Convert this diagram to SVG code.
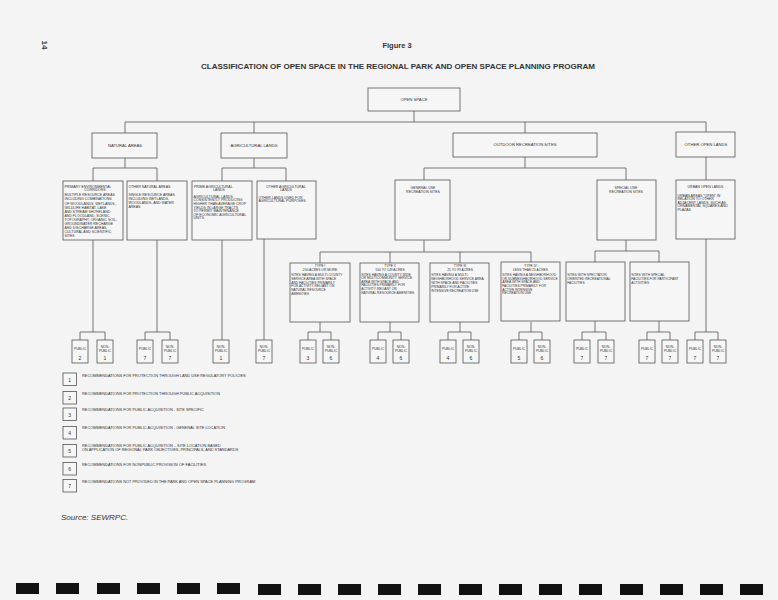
<svg xmlns="http://www.w3.org/2000/svg" width="778" height="600" viewBox="0 0 778 600">
<style>
.bg{fill:#f4f4f4}
.b{fill:#f6f6f6;stroke:#555;stroke-width:0.8}
.c{fill:none;stroke:#555;stroke-width:0.8}
text{font-family:"Liberation Sans",Arial,sans-serif;fill:#333}
.h{font-size:4.2px}
.d{font-size:3.5px}
.e{font-size:3.3px}
.m{text-anchor:middle}
.p{font-size:3.4px;text-anchor:middle}
.n{font-size:5px;text-anchor:middle}
.l{font-size:3.9px}
.k{fill:#111}
</style>
<rect class="bg" x="0" y="0" width="778" height="600"/>
<text x="42" y="45" transform="rotate(90 42 45)" font-size="8" font-weight="bold" text-anchor="middle">14</text>
<text x="397" y="48" font-size="7.5" font-weight="bold" text-anchor="middle">Figure 3</text>
<text x="201" y="69" font-size="8" font-weight="bold" textLength="394" lengthAdjust="spacingAndGlyphs">CLASSIFICATION OF OPEN SPACE IN THE REGIONAL PARK AND OPEN SPACE PLANNING PROGRAM</text>

<g id="connectors">
<path class="c" d="M414 111V122M125 122H706M125 122V133M254 122V133M525 122V133M706 122V132"/>
<path class="c" d="M125 158V168M93 168H157M93 168V181M157 168V181"/>
<path class="c" d="M254 158V168M222 168H286M222 168V181M286 168V181"/>
<path class="c" d="M525 157V168M424 168H626M424 168V180M626 168V180"/>
<path class="c" d="M706 157V180"/>
<path class="c" d="M424 240V252M320 252H531M320 252V263M390 252V263M460 252V263M531 252V263"/>
<path class="c" d="M626 240V251M595 251H659M595 251V262M659 251V262"/>
<path class="c" d="M93 240V332M80 332H105M80 332V340M105 332V340"/>
<path class="c" d="M157 240V332M145 332H170M145 332V340M170 332V340"/>
<path class="c" d="M222 240V340"/>
<path class="c" d="M264 239V340"/>
<path class="c" d="M320 322V332M308 332H331M308 332V340M331 332V340"/>
<path class="c" d="M390 322V332M378 332H401M378 332V340M401 332V340"/>
<path class="c" d="M460 322V332M448 332H471M448 332V340M471 332V340"/>
<path class="c" d="M531 322V332M519 332H542M519 332V340M542 332V340"/>
<path class="c" d="M595 321V332M582 332H606M582 332V340M606 332V340"/>
<path class="c" d="M659 321V332M647 332H670M647 332V340M670 332V340"/>
<path class="c" d="M706 239V332M695 332H718M695 332V340M718 332V340"/>
</g>

<g id="open-space"><rect class="b" x="368" y="88" width="92" height="23"/><text class="h m" x="414" y="101">OPEN SPACE</text></g>
<g id="natural-areas"><rect class="b" x="92" y="133" width="65" height="25"/><text class="h m" x="125" y="147">NATURAL AREAS</text></g>
<g id="agricultural-lands"><rect class="b" x="221" y="133" width="66" height="25"/><text class="h m" x="254" y="147">AGRICULTURAL LANDS</text></g>
<g id="outdoor-recreation"><rect class="b" x="453" y="133" width="144" height="24"/><text class="h m" x="525" y="146">OUTDOOR RECREATION SITES</text></g>
<g id="other-open-lands"><rect class="b" x="676" y="132" width="59" height="25"/><text class="h m" x="706" y="146">OTHER OPEN LANDS</text></g>

<g id="primary-env-corridors"><rect class="b" x="63" y="181" width="60" height="59"/>
<text class="d" x="64.5" y="187.5">PRIMARY ENVIRONMENTAL</text>
<text class="d m" x="95" y="190.8">CORRIDORS</text>
<text class="d" x="64.5" y="196.3">MULTIPLE RESOURCE AREAS</text>
<text class="d" x="64.5" y="200.4">INCLUDING COMBINATIONS</text>
<text class="d" x="64.5" y="204.5">OF WOODLANDS, WETLANDS,</text>
<text class="d" x="64.5" y="208.6">WILDLIFE HABITAT, LAKE</text>
<text class="d" x="64.5" y="212.7">AND STREAM SHORELAND</text>
<text class="d" x="64.5" y="216.8">AND FLOODLAND, SCENIC</text>
<text class="d" x="64.5" y="220.9">TOPOGRAPHY, ORGANIC SOIL,</text>
<text class="d" x="64.5" y="225">GROUNDWATER RECHARGE</text>
<text class="d" x="64.5" y="229.1">AND DISCHARGE AREAS,</text>
<text class="d" x="64.5" y="233.2">CULTURAL AND SCIENTIFIC</text>
<text class="d" x="64.5" y="237.3">SITES</text>
</g>
<g id="other-natural-areas"><rect class="b" x="127" y="181" width="60" height="59"/>
<text class="d" x="128.5" y="187.5">OTHER NATURAL AREAS</text>
<text class="d" x="128.5" y="196.3">SINGLE RESOURCE AREAS</text>
<text class="d" x="128.5" y="200.1">INCLUDING WETLANDS,</text>
<text class="d" x="128.5" y="203.9">WOODLANDS, AND WATER</text>
<text class="d" x="128.5" y="207.7">AREAS</text>
</g>
<g id="prime-agricultural"><rect class="b" x="192" y="181" width="60" height="59"/>
<text class="d" x="194" y="187.5">PRIME AGRICULTURAL</text>
<text class="d m" x="219" y="190.8">LANDS</text>
<text class="d" x="193.5" y="197.8">AGRICULTURAL LANDS</text>
<text class="d" x="193.5" y="201.4">CONSISTENTLY PRODUCING</text>
<text class="d" x="193.5" y="205">HIGHER THAN AVERAGE CROP</text>
<text class="d" x="193.5" y="208.6">YIELDS IN LARGE TRACTS</text>
<text class="d" x="193.5" y="212.2">TO PERMIT MAINTENANCE</text>
<text class="d" x="193.5" y="215.8">OF ECONOMIC AGRICULTURAL</text>
<text class="d" x="193.5" y="219.4">UNITS</text>
</g>
<g id="other-agricultural"><rect class="b" x="257" y="181" width="59" height="58"/>
<text class="d m" x="286" y="187.5">OTHER AGRICULTURAL</text>
<text class="d m" x="286" y="190.8">LANDS</text>
<text class="d" x="258.5" y="198.8">OTHER LANDS USED FOR</text>
<text class="d" x="258.5" y="202.3">AGRICULTURAL PURPOSES</text>
</g>
<g id="general-use"><rect class="b" x="395" y="180" width="55" height="60"/>
<text class="d m" x="423" y="188.5">GENERAL USE</text>
<text class="d m" x="423" y="192.6">RECREATION SITES</text>
</g>
<g id="special-use"><rect class="b" x="597" y="180" width="59" height="60"/>
<text class="d m" x="626" y="188.5">SPECIAL USE</text>
<text class="d m" x="626" y="192.6">RECREATION SITES</text>
</g>
<g id="urban-open-lands"><rect class="b" x="676" y="180" width="59" height="59"/>
<text class="d m" x="705.5" y="188">URBAN OPEN LANDS</text>
<text class="d" x="677.5" y="197">URBAN AREAS "OPEN" IN</text>
<text class="d" x="677.5" y="200.4">RELATION TO OTHER</text>
<text class="d" x="677.5" y="203.8">ADJACENT LANDS, SUCH AS</text>
<text class="d" x="677.5" y="207.2">ORNAMENTAL SQUARES AND</text>
<text class="d" x="677.5" y="210.6">PLAZAS</text>
</g>

<g id="type-1"><rect class="b" x="290" y="263" width="60" height="59"/>
<text class="e m" x="320" y="267.2">TYPE I</text>
<text class="e m" x="320" y="270.6">250 ACRES OR MORE</text>
<text class="e" x="291.2" y="276.2">SITES HAVING A MULTI-COUNTY</text>
<text class="e" x="291.2" y="279.9">SERVICE AREA WITH SPACE</text>
<text class="e" x="291.2" y="283.6">AND FACILITIES PRIMARILY</text>
<text class="e" x="291.2" y="287.3">FOR ACTIVITY RELIANT ON</text>
<text class="e" x="291.2" y="291">NATURAL RESOURCE</text>
<text class="e" x="291.2" y="294.7">AMENITIES</text>
</g>
<g id="type-2"><rect class="b" x="360" y="263" width="59" height="59"/>
<text class="e m" x="390" y="267.2">TYPE II</text>
<text class="e m" x="390" y="270.6">100 TO 149 ACRES</text>
<text class="e" x="361.2" y="275.6">SITES HAVING A COUNTY-WIDE</text>
<text class="e" x="361.2" y="279.2">OR MULTICOMMUNITY SERVICE</text>
<text class="e" x="361.2" y="282.8">AREA WITH SPACE AND</text>
<text class="e" x="361.2" y="286.4">FACILITIES PRIMARILY FOR</text>
<text class="e" x="361.2" y="290">ACTIVITY RELIANT ON</text>
<text class="e" x="361.2" y="293.6">NATURAL RESOURCE AMENITIES</text>
</g>
<g id="type-3"><rect class="b" x="430" y="263" width="59" height="59"/>
<text class="e m" x="460" y="267.2">TYPE III</text>
<text class="e m" x="460" y="270.6">25 TO 99 ACRES</text>
<text class="e" x="431.2" y="275.6">SITES HAVING A MULTI-</text>
<text class="e" x="431.2" y="279.6">NEIGHBORHOOD SERVICE AREA</text>
<text class="e" x="431.2" y="283.6">WITH SPACE AND FACILITIES</text>
<text class="e" x="431.2" y="287.6">PRIMARILY FOR ACTIVE</text>
<text class="e" x="431.2" y="291.6">INTENSIVE RECREATION USE</text>
</g>
<g id="type-4"><rect class="b" x="501" y="262" width="59" height="59"/>
<text class="e m" x="530.5" y="267.2">TYPE IV</text>
<text class="e m" x="530.5" y="270.6">LESS THAN 25 ACRES</text>
<text class="e" x="502.2" y="276.2">SITES HAVING A NEIGHBORHOOD</text>
<text class="e" x="502.2" y="279.8">OR SUBNEIGHBORHOOD SERVICE</text>
<text class="e" x="502.2" y="283.4">AREA WITH SPACE AND</text>
<text class="e" x="502.2" y="287">FACILITIES PRIMARILY FOR</text>
<text class="e" x="502.2" y="290.6">ACTIVE INTENSIVE</text>
<text class="e" x="502.2" y="294.2">RECREATION USE</text>
</g>
<g id="spectator-sites"><rect class="b" x="566" y="262" width="59" height="59"/>
<text class="e" x="567.2" y="276.2">SITES WITH SPECTATOR</text>
<text class="e" x="567.2" y="279.8">ORIENTED RECREATIONAL</text>
<text class="e" x="567.2" y="284.4">FACILITIES</text>
</g>
<g id="special-facility-sites"><rect class="b" x="630" y="262" width="59" height="59"/>
<text class="e" x="631.2" y="276.2">SITES WITH SPECIAL</text>
<text class="e" x="631.2" y="279.8">FACILITIES FOR PARTICIPANT</text>
<text class="e" x="631.2" y="284.4">ACTIVITIES</text>
</g>

<g id="pec-public"><rect class="b" x="72" y="340" width="16" height="23"/><text class="p" x="80" y="349.5">PUBLIC</text><text class="n" x="80" y="359.5">2</text></g>
<g id="pec-nonpublic"><rect class="b" x="97" y="340" width="16" height="23"/><text class="p" x="105" y="348">NON-</text><text class="p" x="105" y="351.6">PUBLIC</text><text class="n" x="105" y="359.5">1</text></g>
<g id="ona-public"><rect class="b" x="137" y="340" width="16" height="23"/><text class="p" x="145" y="349.5">PUBLIC</text><text class="n" x="145" y="359.5">7</text></g>
<g id="ona-nonpublic"><rect class="b" x="162" y="340" width="16" height="23"/><text class="p" x="170" y="348">NON-</text><text class="p" x="170" y="351.6">PUBLIC</text><text class="n" x="170" y="359.5">7</text></g>
<g id="pag-nonpublic"><rect class="b" x="213" y="340" width="16" height="23"/><text class="p" x="221" y="348">NON-</text><text class="p" x="221" y="351.6">PUBLIC</text><text class="n" x="221" y="359.5">1</text></g>
<g id="oag-nonpublic"><rect class="b" x="256" y="340" width="16" height="23"/><text class="p" x="264" y="348">NON-</text><text class="p" x="264" y="351.6">PUBLIC</text><text class="n" x="264" y="359.5">7</text></g>
<g id="t1-public"><rect class="b" x="300" y="340" width="16" height="23"/><text class="p" x="308" y="349.5">PUBLIC</text><text class="n" x="308" y="359.5">3</text></g>
<g id="t1-nonpublic"><rect class="b" x="323" y="340" width="16" height="23"/><text class="p" x="331" y="348">NON-</text><text class="p" x="331" y="351.6">PUBLIC</text><text class="n" x="331" y="359.5">6</text></g>
<g id="t2-public"><rect class="b" x="370" y="340" width="16" height="23"/><text class="p" x="378" y="349.5">PUBLIC</text><text class="n" x="378" y="359.5">4</text></g>
<g id="t2-nonpublic"><rect class="b" x="393" y="340" width="16" height="23"/><text class="p" x="401" y="348">NON-</text><text class="p" x="401" y="351.6">PUBLIC</text><text class="n" x="401" y="359.5">6</text></g>
<g id="t3-public"><rect class="b" x="440" y="340" width="16" height="23"/><text class="p" x="448" y="349.5">PUBLIC</text><text class="n" x="448" y="359.5">4</text></g>
<g id="t3-nonpublic"><rect class="b" x="463" y="340" width="16" height="23"/><text class="p" x="471" y="348">NON-</text><text class="p" x="471" y="351.6">PUBLIC</text><text class="n" x="471" y="359.5">6</text></g>
<g id="t4-public"><rect class="b" x="511" y="340" width="16" height="23"/><text class="p" x="519" y="349.5">PUBLIC</text><text class="n" x="519" y="359.5">5</text></g>
<g id="t4-nonpublic"><rect class="b" x="534" y="340" width="16" height="23"/><text class="p" x="542" y="348">NON-</text><text class="p" x="542" y="351.6">PUBLIC</text><text class="n" x="542" y="359.5">6</text></g>
<g id="spec-public"><rect class="b" x="574" y="340" width="16" height="23"/><text class="p" x="582" y="349.5">PUBLIC</text><text class="n" x="582" y="359.5">7</text></g>
<g id="spec-nonpublic"><rect class="b" x="598" y="340" width="16" height="23"/><text class="p" x="606" y="348">NON-</text><text class="p" x="606" y="351.6">PUBLIC</text><text class="n" x="606" y="359.5">7</text></g>
<g id="sf-public"><rect class="b" x="639" y="340" width="16" height="23"/><text class="p" x="647" y="349.5">PUBLIC</text><text class="n" x="647" y="359.5">7</text></g>
<g id="sf-nonpublic"><rect class="b" x="662" y="340" width="16" height="23"/><text class="p" x="670" y="348">NON-</text><text class="p" x="670" y="351.6">PUBLIC</text><text class="n" x="670" y="359.5">7</text></g>
<g id="urban-public"><rect class="b" x="687" y="340" width="16" height="23"/><text class="p" x="695" y="349.5">PUBLIC</text><text class="n" x="695" y="359.5">7</text></g>
<g id="urban-nonpublic"><rect class="b" x="710" y="340" width="16" height="23"/><text class="p" x="718" y="348">NON-</text><text class="p" x="718" y="351.6">PUBLIC</text><text class="n" x="718" y="359.5">7</text></g>

<g id="legend">
<rect class="b" x="63" y="373" width="13.5" height="12.5"/><text class="n" x="69.7" y="381.5">1</text><text class="l" x="82" y="376.6">RECOMMENDATIONS FOR PROTECTION THROUGH LAND USE REGULATORY POLICIES</text>
<rect class="b" x="63" y="391.5" width="13.5" height="12.5"/><text class="n" x="69.7" y="400">2</text><text class="l" x="82" y="394.8">RECOMMENDATIONS FOR PROTECTION THROUGH PUBLIC ACQUISITION</text>
<rect class="b" x="63" y="408" width="13.5" height="12.5"/><text class="n" x="69.7" y="416.5">3</text><text class="l" x="82" y="410.8">RECOMMENDATIONS FOR PUBLIC ACQUISITION - SITE SPECIFIC</text>
<rect class="b" x="63" y="426.5" width="13.5" height="12.5"/><text class="n" x="69.7" y="435">4</text><text class="l" x="82" y="429.2">RECOMMENDATIONS FOR PUBLIC ACQUISITION - GENERAL SITE LOCATION</text>
<rect class="b" x="63" y="444.5" width="13.5" height="12.5"/><text class="n" x="69.7" y="453">5</text><text class="l" x="82" y="446.5">RECOMMENDATIONS FOR PUBLIC ACQUISITION – SITE LOCATION BASED</text><text class="l" x="82" y="451.3">ON APPLICATION OF REGIONAL PARK OBJECTIVES, PRINCIPALS, AND STANDARDS</text>
<rect class="b" x="63" y="462.5" width="13.5" height="12.5"/><text class="n" x="69.7" y="471">6</text><text class="l" x="82" y="465.5">RECOMMENDATIONS FOR NONPUBLIC PROVISION OF FACILITIES</text>
<rect class="b" x="63" y="479.5" width="13.5" height="12.5"/><text class="n" x="69.7" y="488">7</text><text class="l" x="82" y="482.5">RECOMMENDATIONS NOT PROVIDED IN THE PARK AND OPEN SPACE PLANNING PROGRAM</text>
</g>

<text x="61" y="520" font-size="8" font-style="italic">Source:  SEWRPC.</text>

<g id="edge-marks" class="k">
<rect x="16" y="583" width="23" height="11"/>
<rect x="56" y="583" width="23" height="11"/>
<rect x="97" y="583" width="23" height="11"/>
<rect x="137" y="583" width="23" height="11"/>
<rect x="177" y="583" width="23" height="11"/>
<rect x="217" y="583" width="23" height="11"/>
<rect x="258" y="584" width="23" height="11"/>
<rect x="298" y="584" width="23" height="11"/>
<rect x="338" y="584" width="23" height="11"/>
<rect x="378" y="584" width="23" height="11"/>
<rect x="418" y="584" width="23" height="11"/>
<rect x="459" y="584" width="23" height="11"/>
<rect x="499" y="584" width="23" height="11"/>
<rect x="539" y="584" width="23" height="11"/>
<rect x="579" y="584" width="23" height="11"/>
<rect x="620" y="584" width="23" height="11"/>
<rect x="660" y="584" width="23" height="11"/>
<rect x="700" y="584" width="23" height="11"/>
<rect x="740" y="584" width="23" height="11"/>
</g>
</svg>
